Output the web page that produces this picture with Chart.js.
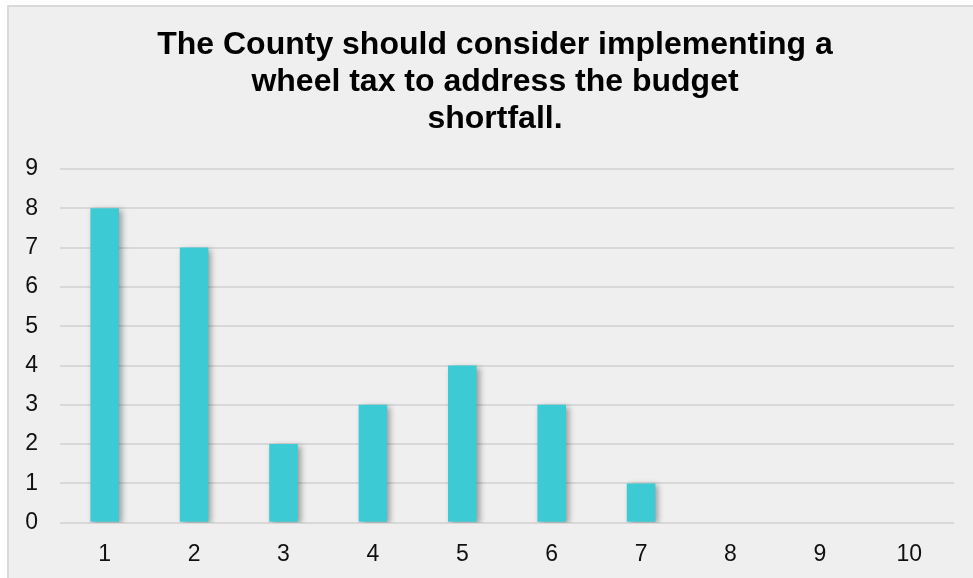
<!DOCTYPE html>
<html>
<head>
<meta charset="utf-8">
<script src="https://cdn.jsdelivr.net/npm/chart.js@4/dist/chart.umd.min.js"></script>
<style>
  html, body { margin: 0; padding: 0; background: #ffffff; overflow: hidden; }
  #frame {
    position: absolute; left: 7px; top: 5px; width: 973px; height: 578px;
    background: #efefef; border-left: 2px solid #d9d9d9; border-top: 2px solid #d9d9d9;
  }
  #chart { position: absolute; left: 0; top: 0; }
</style>
</head>
<body>
<div id="frame"></div>
<canvas id="chart" width="973" height="578"></canvas>
<script>
// Survey responses on a 1–10 agreement scale
const categories = ['1', '2', '3', '4', '5', '6', '7', '8', '9', '10'];
const responses = [8, 7, 2, 3, 4, 3, 1, 0, 0, 0];
const yTickMax = 9;
const titleLines = [
  'The County should consider implementing a',
  'wheel tax to address the budget',
  'shortfall.'
];

// Soft drop shadow behind the bars
const barShadow = {
  id: 'barShadow',
  beforeDatasetsDraw(chart) {
    const c = chart.ctx;
    c.save();
    c.shadowColor = 'rgba(0,0,0,0.35)';
    c.shadowBlur = 6;
    c.shadowOffsetX = 3;
    c.shadowOffsetY = 2;
  },
  afterDatasetsDraw(chart) {
    chart.ctx.restore();
  }
};

// The title is centred on the full frame, which runs past the right edge
const titleOffset = {
  id: 'titleOffset',
  afterLayout(chart) {
    const t = chart.titleBlock;
    if (t) { t.left += 27; }
  }
};

const fontFamily = '"Liberation Sans", Arial, sans-serif';

new Chart(document.getElementById('chart'), {
  type: 'bar',
  data: {
    labels: categories,
    datasets: [{
      data: responses,
      backgroundColor: '#3ccbd5',
      borderWidth: 0,
      categoryPercentage: 1.0,
      barPercentage: 0.32
    }]
  },
  options: {
    responsive: false,
    animation: false,
    devicePixelRatio: 1,
    layout: { padding: { left: 9, right: 19, top: 0, bottom: 0 } },
    plugins: {
      legend: { display: false },
      tooltip: { enabled: false },
      title: {
        display: true,
        text: titleLines,
        color: '#000000',
        font: { family: fontFamily, size: 32, weight: 'bold', lineHeight: 1.15 },
        padding: { top: 27, bottom: 31.6 }
      }
    },
    scales: {
      x: {
        grid: { display: false, drawTicks: false },
        border: { display: false },
        ticks: {
          color: '#111111',
          padding: 18,
          font: { family: fontFamily, size: 23 }
        },
        afterFit(scale) { scale.height = 55.3; }
      },
      y: {
        min: 0,
        max: yTickMax,
        grid: { color: '#d8d8d8', lineWidth: 2, drawTicks: false },
        border: { display: false },
        ticks: {
          stepSize: 1,
          color: '#111111',
          padding: 22,
          font: { family: fontFamily, size: 23 }
        },
        afterFit(scale) { scale.width = 51; }
      }
    }
  },
  plugins: [barShadow, titleOffset]
});
</script>
</body>
</html>
